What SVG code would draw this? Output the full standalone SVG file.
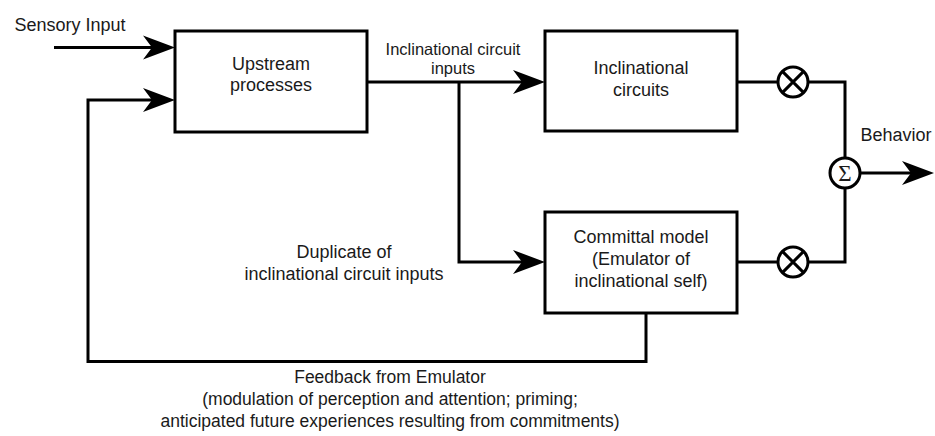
<svg xmlns="http://www.w3.org/2000/svg" width="935" height="436" viewBox="0 0 935 436">
<style>
.box{fill:#fff;stroke:#000;stroke-width:3}
.ln{fill:none;stroke:#000;stroke-width:3}
.arr{marker-end:url(#ah)}
.c{fill:#fff;stroke:#000;stroke-width:3}
text{font-family:"Liberation Sans",Arial,sans-serif;font-size:18px;fill:#1a1a1a;text-anchor:middle}
.sm{font-size:16.5px}
.fb{font-size:17.5px}
</style>
<defs>
<marker id="ah" markerUnits="userSpaceOnUse" markerWidth="32" markerHeight="24" refX="9" refY="12" orient="auto" overflow="visible">
<path d="M0,0 L32,12 L0,24 L9,12 Z" fill="#000"/>
</marker>
</defs>
<g id="connectors">
<path class="ln arr" d="M54,47.5 H152"/>
<path class="ln arr" d="M646,313 V361.5 H88 V100 H152"/>
<path class="ln arr" d="M367,82 H522"/>
<path class="ln arr" d="M459,82 V262 H522"/>
<path class="ln" d="M737,82 H778"/>
<path class="ln" d="M808,82 H845 V158"/>
<path class="ln" d="M737,262 H778"/>
<path class="ln" d="M808,262 H845 V188"/>
<path class="ln arr" d="M860,173 H911"/>
</g>
<g id="upstream">
<rect class="box" x="175" y="31" width="192" height="101"/>
<text x="271" y="70">Upstream</text>
<text x="271" y="91">processes</text>
</g>
<g id="inclinational">
<rect class="box" x="545" y="31" width="192" height="100"/>
<text x="641" y="74">Inclinational</text>
<text x="641" y="96">circuits</text>
</g>
<g id="committal">
<rect class="box" x="545" y="212" width="192" height="101"/>
<text x="641" y="243">Committal model</text>
<text x="641" y="265">(Emulator of</text>
<text x="641" y="287">inclinational self)</text>
</g>
<g id="mult-top">
<circle class="c" cx="793" cy="82" r="15"/>
<path class="ln" d="M782.4,71.4 L803.6,92.6 M803.6,71.4 L782.4,92.6"/>
</g>
<g id="mult-bottom">
<circle class="c" cx="793" cy="262" r="15"/>
<path class="ln" d="M782.4,251.4 L803.6,272.6 M803.6,251.4 L782.4,272.6"/>
</g>
<g id="sum">
<circle class="c" cx="845" cy="173" r="15"/>
<text x="845" y="181" style="font-family:'Liberation Serif',serif;font-size:23px">Σ</text>
</g>
<g id="labels">
<text x="70" y="30.5">Sensory Input</text>
<text class="sm" x="453" y="55">Inclinational circuit</text>
<text class="sm" x="453" y="74">inputs</text>
<text x="344" y="258">Duplicate of</text>
<text x="344" y="280">inclinational circuit inputs</text>
<text x="896" y="141">Behavior</text>
<text class="fb" x="390" y="383">Feedback from Emulator</text>
<text class="fb" x="390" y="405">(modulation of perception and attention; priming;</text>
<text class="fb" x="390" y="427">anticipated future experiences resulting from commitments)</text>
</g>
</svg>
